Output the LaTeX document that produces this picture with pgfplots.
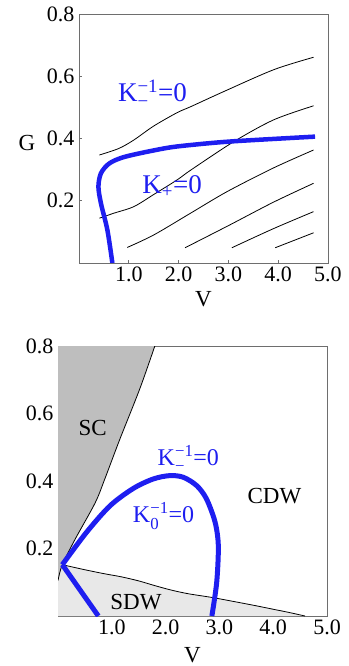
\documentclass[border=0pt]{standalone}
\usepackage{pgfplots}
\pgfplotsset{compat=1.18}
\usepackage{amsmath}
\usepackage{fontspec}
\setmainfont{Liberation Serif}
\definecolor{kblue}{RGB}{30,30,240}
\definecolor{scgray}{RGB}{190,190,190}
\definecolor{sdwgray}{RGB}{232,232,232}
\definecolor{framec}{RGB}{110,110,110}
\newcommand{\ssub}[2]{\ensuremath{^{\text{#1}}_{\text{#2}}}}
\pgfplotsset{myaxis/.style={
  scale only axis, xmin=0, xmax=5, ymin=0, ymax=0.8,
  xtick={1,2,3,4,5}, xticklabels={1.0,2.0,3.0,4.0,5.0},
  ytick={0.2,0.4,0.6,0.8}, yticklabels={0.2,0.4,0.6,0.8},
  tick align=inside, tick pos=left, major tick length=3pt,
  axis line style={framec, line width=0.8pt},
  tick style={framec, line width=0.6pt},
  ticklabel style={font=\fontsize{22}{22}\selectfont},
  yticklabel style={xshift=-1pt},
  label style={font=\fontsize{23}{23}\selectfont},
  xlabel={V},
  xlabel style={at={(axis description cs:0.5,-0.145)}, anchor=center},
}}
\begin{document}
\begin{tikzpicture}[x=1pt,y=1pt]
\path[use as bounding box] (0,0) rectangle (348,666);
% ---------------- top panel ----------------
\begin{axis}[myaxis, at={(79pt,403pt)}, anchor=south west, width=249pt, height=249pt,
  ylabel={G}, ylabel style={rotate=-90, at={(axis description cs:-0.209,0.482)}, anchor=center}]
\addplot[black, line width=0.8pt, smooth] coordinates {(0.41,0.347) (0.8,0.368) (1.1,0.395) (1.5,0.44) (1.97,0.483) (2.24,0.502) (2.91,0.551) (3.91,0.621) (4.71,0.661)};
\addplot[black, line width=0.8pt, smooth] coordinates {(0.41,0.144) (0.7,0.16) (1.1,0.181) (1.5,0.22) (1.97,0.267) (2.24,0.298) (3.11,0.39) (3.91,0.46) (4.71,0.505)};
\addplot[black, line width=0.8pt, smooth] coordinates {(0.97,0.05) (1.5,0.09) (2.24,0.16) (2.97,0.229) (3.9,0.305) (4.71,0.363)};
\addplot[black, line width=0.8pt, smooth] coordinates {(2.13,0.049) (3.0,0.12) (3.9,0.195) (4.71,0.256)};
\addplot[black, line width=0.8pt, smooth] coordinates {(3.07,0.049) (3.9,0.11) (4.71,0.165)};
\addplot[black, line width=0.8pt] coordinates {(3.94,0.049) (4.71,0.097)};
\addplot[kblue, line width=4.5pt, smooth] coordinates {(0.67,0) (0.57,0.106) (0.44,0.192) (0.39,0.245) (0.44,0.288) (0.61,0.32) (0.94,0.342) (1.74,0.369) (2.3,0.38) (3.1,0.391) (4.74,0.406)};
\node[kblue, anchor=base west, font=\fontsize{27}{27}\selectfont, inner sep=0pt] at (axis cs:0.78,0.519) {K\ssub{−1}{−}=0};
\node[kblue, anchor=base west, font=\fontsize{27}{27}\selectfont, inner sep=0pt] at (axis cs:1.27,0.224) {K\ensuremath{_{\text{+}}}=0};
\end{axis}
% ---------------- bottom panel ----------------
\begin{axis}[myaxis, at={(58pt,50pt)}, anchor=south west, width=269pt, height=270pt]
\addplot[fill=scgray, draw=none] coordinates {(0,0.105) (0.08,0.152) (0.32,0.228) (0.69,0.335) (0.87,0.406) (1.15,0.524) (1.52,0.673) (1.80,0.8) (0,0.8)} -- cycle;
\addplot[fill=sdwgray, draw=none] coordinates {(0,0) (0,0.105) (0.08,0.152) (0.5,0.137) (0.87,0.125) (1.18,0.116) (1.5,0.104) (1.8,0.09) (2.1,0.077) (2.42,0.066) (2.86,0.055) (3.2,0.045) (3.66,0.031) (4.0,0.02) (4.28,0.011) (4.59,0.0)} -- cycle;
\addplot[black, line width=0.8pt, smooth] coordinates {(0,0.105) (0.08,0.152) (0.32,0.228) (0.69,0.335) (0.87,0.406) (1.15,0.524) (1.52,0.673) (1.80,0.8)};
\addplot[black, line width=0.8pt, smooth] coordinates {(0.08,0.152) (0.5,0.137) (0.87,0.125) (1.18,0.116) (1.5,0.104) (1.8,0.09) (2.1,0.077) (2.42,0.066) (2.86,0.055) (3.2,0.045) (3.66,0.031) (4.0,0.02) (4.28,0.011) (4.59,0.0)};
\addplot[kblue, line width=5pt, line join=miter] coordinates {(0.75,0) (0.08,0.152)};
\addplot[kblue, line width=5pt, smooth] coordinates {(0.08,0.152) (0.53,0.248) (0.97,0.327) (1.40,0.378) (1.77,0.406) (2.08,0.416) (2.33,0.411) (2.58,0.386) (2.76,0.347) (2.92,0.278) (2.98,0.208) (2.95,0.10) (2.86,0)};
\node[anchor=base west, font=\fontsize{23}{23}\selectfont, inner sep=0pt] at (axis cs:0.38,0.534) {SC};
\node[anchor=base west, font=\fontsize{23}{23}\selectfont, inner sep=0pt] at (axis cs:3.52,0.334) {CDW};
\node[anchor=base west, font=\fontsize{23}{23}\selectfont, inner sep=0pt] at (axis cs:0.97,0.019) {SDW};
\node[kblue, anchor=base west, font=\fontsize{24}{24}\selectfont, inner sep=0pt] at (axis cs:1.85,0.445) {K\ssub{−1}{−}=0};
\node[kblue, anchor=base west, font=\fontsize{24}{24}\selectfont, inner sep=0pt] at (axis cs:1.39,0.276) {K\ssub{−1}{0}=0};
\end{axis}
\end{tikzpicture}
\end{document}
